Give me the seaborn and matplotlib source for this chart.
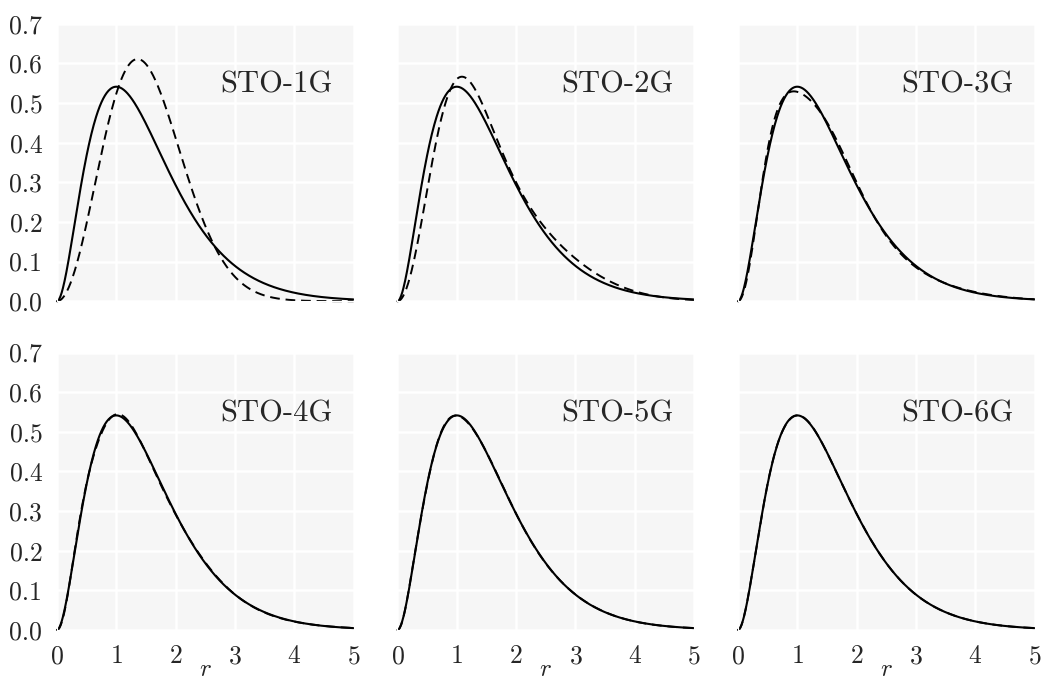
import numpy as np
import pandas as pd
import seaborn as sns
import matplotlib.pyplot as plt

# Slater 1s exponent and Gaussian contraction data for each panel
zeta = 1.0
basis_names = ["STO-1G", "STO-2G", "STO-3G", "STO-4G", "STO-5G", "STO-6G"]
sto1g_alpha = [0.270950]
sto1g_coef = [1.0]
sto2g_alpha = [0.1425, 0.675]
sto2g_coef = [1.0, 0.65]
sto3g_alpha = [0.109818, 0.405771, 2.22766]
sto3g_coef = [0.444635, 0.535328, 0.154329]
sto4g_alpha = [0.0880187, 0.265204, 0.954620, 5.21686]
sto4g_coef = [0.291626, 0.532846, 0.260141, 0.0567523]
sto5g_alpha = [0.0744527, 0.197572, 0.578648, 2.07173, 11.3056]
sto5g_coef = [0.193572, 0.482570, 0.331816, 0.113541, 0.0221406]
sto6g_alpha = [0.0651095, 0.158088, 0.407099, 1.18506, 4.23592, 23.1030]
sto6g_coef = [0.130334, 0.416492, 0.370563, 0.168538, 0.0493615, 0.00916360]

alphas = [sto1g_alpha, sto2g_alpha, sto3g_alpha, sto4g_alpha, sto5g_alpha, sto6g_alpha]
coefs = [sto1g_coef, sto2g_coef, sto3g_coef, sto4g_coef, sto5g_coef, sto6g_coef]

r = np.linspace(0, 5, 501)


def slater_rdf(r):
    psi = np.sqrt(zeta**3 / np.pi) * np.exp(-zeta * r)
    return 4 * np.pi * r**2 * psi**2


def gauss_rdf(r, alpha, coef):
    a = np.asarray(alpha)
    d = np.asarray(coef)
    overlap = (2 * np.sqrt(np.outer(a, a)) / np.add.outer(a, a)) ** 1.5
    norm = np.sqrt(d @ overlap @ d)
    psi = np.zeros_like(r)
    for ai, di in zip(a, d):
        psi += di * (2 * ai / np.pi) ** 0.75 * np.exp(-ai * r**2)
    psi /= norm
    return 4 * np.pi * r**2 * psi**2


sns.set_style("darkgrid", {"axes.facecolor": "#f6f6f6", "grid.color": "white"})
plt.rcParams["font.family"] = ["cmr10", "DejaVu Serif"]
plt.rcParams["mathtext.fontset"] = "cm"
plt.rcParams["axes.unicode_minus"] = False
plt.rcParams["axes.formatter.use_mathtext"] = True

fig, axes = plt.subplots(2, 3, figsize=(10.45, 6.81), dpi=100, sharex=True, sharey=True)

for i, ax in enumerate(axes.flat):
    df = pd.DataFrame({"r": r, "slater": slater_rdf(r),
                       "gauss": gauss_rdf(r, alphas[i], coefs[i])})
    sns.lineplot(data=df, x="r", y="slater", color="black", lw=1.5, ax=ax, clip_on=False)
    sns.lineplot(data=df, x="r", y="gauss", color="black", lw=1.4, dashes=False, ax=ax,
                 clip_on=False).lines[-1].set_dashes((5, 3))
    ax.set_xlim(0, 5)
    ax.set_ylim(0, 0.7)
    ax.set_xticks([0, 1, 2, 3, 4, 5])
    ax.set_yticks(np.arange(0, 0.71, 0.1))
    ax.grid(True, color="white", lw=1.8)
    ax.tick_params(labelsize=18.5, pad=7)
    ax.set_ylabel("")
    ax.set_xlabel("$r$" if i >= 3 else "", fontsize=18, labelpad=-7)
    ax.text(0.93, 0.78, basis_names[i], transform=ax.transAxes, ha="right",
            va="center", fontsize=22)
    ax.yaxis.set_major_formatter(plt.FormatStrFormatter("%.1f"))

plt.subplots_adjust(left=0.0545, right=0.99, top=0.965, bottom=0.075, wspace=0.148, hspace=0.185)
plt.savefig("out.png")
